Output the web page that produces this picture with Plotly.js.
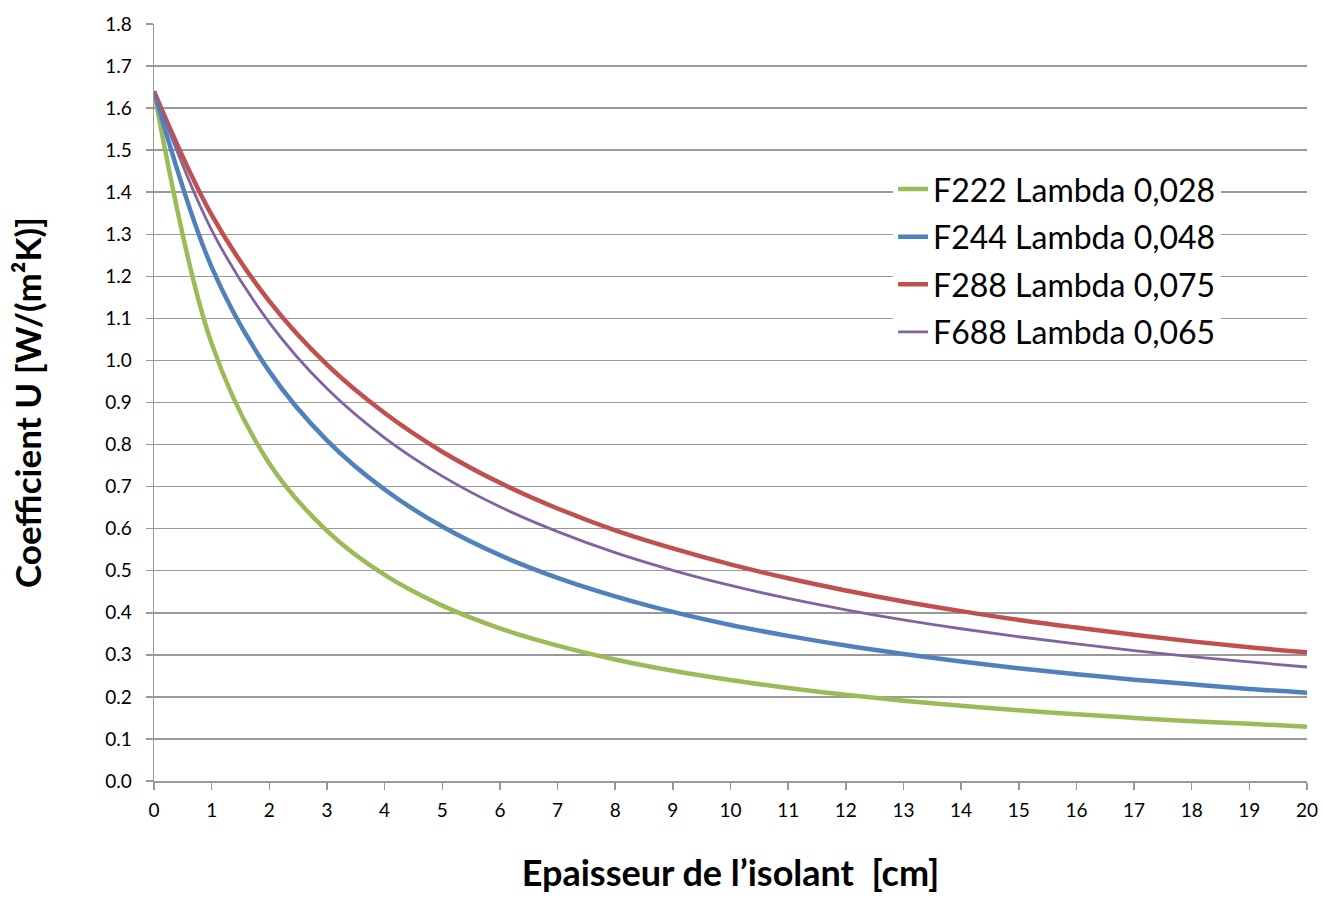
<!DOCTYPE html>
<html>
<head>
<meta charset="utf-8">
<script src="https://cdn.plot.ly/plotly-3.0.1.min.js"></script>
<style>html,body{margin:0;padding:0;background:#fff;}#chart{width:1323px;height:899px;}</style>
</head>
<body>
<div id="chart"></div>
<script>
const thickness = [0, 1, 2, 3, 4, 5, 6, 7, 8, 9, 10, 11, 12, 13, 14, 15, 16, 17, 18, 19, 20];
const seriesNames = ["F222 Lambda 0,028", "F244 Lambda 0,048", "F288 Lambda 0,075", "F688 Lambda 0,065"];
const f222 = [1.64, 1.04, 0.755, 0.595, 0.49, 0.417, 0.363, 0.322, 0.289, 0.262, 0.24, 0.221, 0.205, 0.191, 0.179, 0.168, 0.159, 0.15, 0.142, 0.136, 0.129];
const f244 = [1.64, 1.222, 0.974, 0.81, 0.693, 0.605, 0.537, 0.483, 0.439, 0.402, 0.371, 0.345, 0.322, 0.302, 0.284, 0.268, 0.254, 0.241, 0.23, 0.219, 0.21];
const f288 = [1.64, 1.346, 1.141, 0.99, 0.875, 0.783, 0.709, 0.648, 0.596, 0.553, 0.515, 0.482, 0.453, 0.427, 0.404, 0.383, 0.365, 0.348, 0.332, 0.318, 0.306];
const f688 = [1.64, 1.31, 1.09, 0.933, 0.816, 0.725, 0.652, 0.593, 0.543, 0.501, 0.465, 0.434, 0.407, 0.383, 0.362, 0.343, 0.326, 0.31, 0.296, 0.283, 0.271];
const xTicks = [0,1,2,3,4,5,6,7,8,9,10,11,12,13,14,15,16,17,18,19,20];
const yTicks = [0,0.1,0.2,0.3,0.4,0.5,0.6,0.7,0.8,0.9,1.0,1.1,1.2,1.3,1.4,1.5,1.6,1.7,1.8];

const colors = ["#9BBB59", "#4F81BD", "#C0504D", "#8064A2"];
const widths = [4.5, 4.5, 4.5, 2.8];
const ys = [f222, f244, f288, f688];
const traces = ys.map((y, i) => ({
  x: thickness, y: y, name: seriesNames[i], type: 'scatter', mode: 'lines',
  legendgroup: 'g' + i,
  line: {color: colors[i], width: widths[i], shape: 'spline', smoothing: 1}
}));

const font = "Lato, 'Liberation Sans', sans-serif";
const layout = {
  width: 1323, height: 899,
  margin: {l: 154, r: 16, t: 24, b: 118},
  paper_bgcolor: '#fff', plot_bgcolor: '#fff',
  font: {family: font, color: '#000'},
  showlegend: true,
  legend: {x: 0.641, y: 0.818, xanchor: 'left', yanchor: 'top', bgcolor: '#fff',
           font: {size: 32, family: font, color: '#000'}, tracegroupgap: 3, itemwidth: 30},
  xaxis: {
    range: [0, 20], tickvals: xTicks, ticktext: xTicks.map(String),
    showgrid: false, zeroline: false, showline: true, linecolor: '#999', linewidth: 1.5,
    ticks: 'outside', ticklen: 7, tickcolor: '#999', tickwidth: 1.5, ticklabelstandoff: 5,
    tickfont: {size: 19, family: font, color: '#000'},
    title: {text: "<b>Epaisseur de l’isolant  [cm]</b>", font: {size: 36, family: font, color: '#000'}, standoff: 40}
  },
  yaxis: {
    range: [0, 1.8], tickvals: yTicks, ticktext: yTicks.map(v => v.toFixed(1)),
    showgrid: true, gridcolor: '#999', gridwidth: 1.5, zeroline: false,
    showline: true, linecolor: '#999', linewidth: 1.5,
    ticks: 'outside', ticklen: 7, tickcolor: '#999', tickwidth: 1.5, ticklabelstandoff: 10,
    tickfont: {size: 19, family: font, color: '#000'},
    title: {text: "<b>Coefficient U [W/(m²K)]</b>", font: {size: 35, family: font, color: '#000'}, standoff: 53}
  }
};
Plotly.newPlot('chart', traces, layout, {displayModeBar: false, staticPlot: true});
</script>
</body>
</html>
